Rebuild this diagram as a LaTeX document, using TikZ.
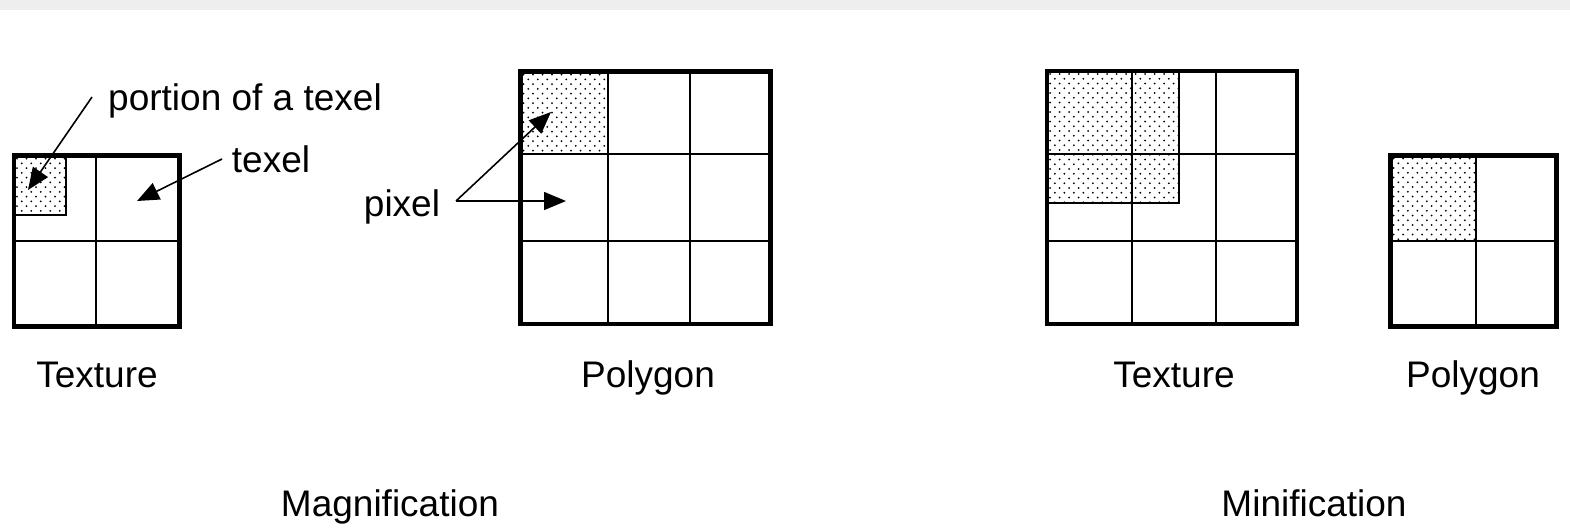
\documentclass[tikz,border=0pt]{standalone}
\usepackage{fontspec}
\setmainfont{Liberation Sans}
\usetikzlibrary{arrows.meta}
\definecolor{bandgray}{RGB}{238,238,238}
% dotted shading: #1,#2 top-left, #3,#4 bottom-right (px)
\newcommand\dotpatch[4]{%
  \begin{scope}
    \clip (#1,#2) rectangle (#3,#4);
    \foreach \i in {0,...,30}{
      \foreach \j in {0,...,15}{
        \fill ({#1+3+\j*9.5+mod(\i,2)*4.75},{#2+3+\i*4.75}) circle (0.5pt);
      }
    }
  \end{scope}}
\begin{document}
\begin{tikzpicture}[x=0.5pt,y=-0.5pt,
  frame/.style={line width=2.2pt},
  gridline/.style={line width=1pt},
  arr/.style={line width=0.8pt,-{Triangle[length=11pt,width=9pt]}},
  lbl/.style={font=\fontsize{18.5}{22}\selectfont,inner sep=0pt,anchor=base}]
\useasboundingbox (0,0) rectangle (1570,527);
\fill[bandgray] (0,0) rectangle (1570,10);

% ---- Magnification: texture (2x2)
\dotpatch{14}{155.5}{65.7}{215}
\draw[gridline] (65.7,155.5) -- (65.7,215) -- (14,215);
\draw[gridline] (96,155.5) -- (96,326.5);
\draw[gridline] (14,240.7) -- (179.5,240.7);
\draw[frame] (14,155.5) rectangle (179.5,326.5);

% ---- Magnification: polygon (3x3)
\dotpatch{520.5}{71.5}{608.3}{154}
\draw[gridline] (608.3,71.5) -- (608.3,324) (690,71.5) -- (690,324);
\draw[gridline] (520.5,154) -- (770.5,154) (520.5,241) -- (770.5,241);
\draw[frame] (520.5,71.5) rectangle (770.5,324);

% ---- Minification: texture (3x3)
\dotpatch{1047}{71}{1179}{203}
\draw[gridline] (1179,71) -- (1179,203) -- (1047,203);
\draw[gridline] (1132,71) -- (1132,324) (1216,71) -- (1216,324);
\draw[gridline] (1047,154) -- (1297,154) (1047,241) -- (1297,241);
\draw[frame] (1047,71) rectangle (1297,324);

% ---- Minification: polygon (2x2)
\dotpatch{1390.5}{155.5}{1476}{240.7}
\draw[gridline] (1476,155.5) -- (1476,326.5);
\draw[gridline] (1390.5,240.7) -- (1556.5,240.7);
\draw[frame] (1390.5,155.5) rectangle (1556.5,326.5);

% ---- labels
\node[lbl] (portion) at (245,110) {portion of a texel};
\node[lbl] (texel) at (271,172) {texel};
\node[lbl] (pixel) at (402,216) {pixel};
\node[lbl] (tex1) at (97,387) {Texture};
\node[lbl] (poly1) at (648,387) {Polygon};
\node[lbl] (tex2) at (1174,387) {Texture};
\node[lbl] (poly2) at (1473,387) {Polygon};
\node[lbl] (mag) at (390,516) {Magnification};
\node[lbl] (min) at (1314,516) {Minification};

% ---- arrows
\coordinate (portionStart) at (92,97);
\coordinate (portionTip) at (28,190);
\coordinate (texelStart) at (222,159);
\coordinate (texelTip) at (137,201);
\coordinate (pixelStart) at (456,201);
\coordinate (pixelTipA) at (551,112);
\coordinate (pixelTipB) at (566,201);
\draw[arr] (portionStart) -- (portionTip);
\draw[arr] (texelStart) -- (texelTip);
\draw[arr] (pixelStart) -- (pixelTipA);
\draw[arr] (pixelStart) -- (pixelTipB);
\end{tikzpicture}
\end{document}
